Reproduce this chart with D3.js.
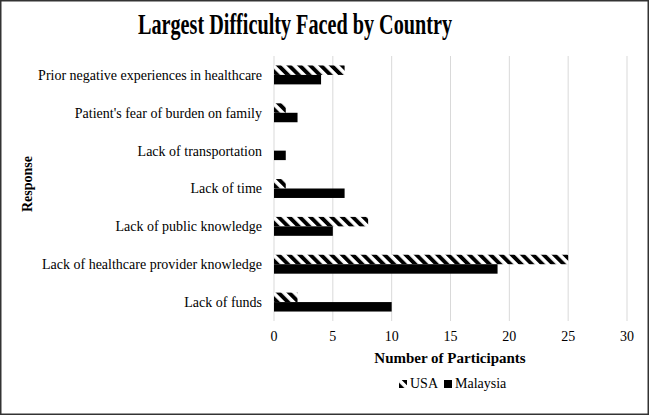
<!DOCTYPE html>
<html>
<head>
<meta charset="utf-8">
<script src="https://cdn.jsdelivr.net/npm/d3@7"></script>
<style>
  html, body { margin: 0; padding: 0; background: #fff; }
</style>
</head>
<body>
<svg id="chart" width="649" height="415" font-family="'Liberation Serif', 'Times New Roman', 'DejaVu Serif', serif"></svg>
<script>
let categories = [
	"Prior negative experiences in healthcare",
	"Patient's fear of burden on family",
	"Lack of transportation",
	"Lack of time",
	"Lack of public knowledge",
	"Lack of healthcare provider knowledge",
	"Lack of funds"
]
let usa = [6, 1, 0, 1, 8, 25, 2]
let malaysia = [4, 2, 1, 6, 5, 19, 10]
let xTicks = [0, 5, 10, 15, 20, 25, 30]
let seriesNames = ["USA", "Malaysia"]

let svg = d3.select('#chart')
let W = 649, H = 415
let plotLeft = 274, plotRight = 627, plotTop = 56, plotBottom = 321

// frame round the whole picture
svg.append('rect').attr('x', 0.75).attr('y', 0.75).attr('width', W - 1.5).attr('height', H - 1.5)
	.attr('fill', '#fff').attr('stroke', '#333').attr('stroke-width', 1.5)

let defs = svg.append('defs')
let pat = defs.append('pattern').attr('id', 'hatch')
	.attr('patternUnits', 'userSpaceOnUse').attr('width', 7.5).attr('height', 7.5)
	.attr('patternTransform', 'rotate(-45)')
pat.append('rect').attr('width', 7.5).attr('height', 7.5).attr('fill', '#fff')
pat.append('rect').attr('width', 3.9).attr('height', 7.5).attr('fill', '#000')

let x = d3.scaleLinear().domain([0, 30]).range([plotLeft, plotRight])
let y = d3.scaleBand().domain(categories).range([plotTop, plotBottom]).paddingInner(0.5).paddingOuter(0.25)
let sub = d3.scaleBand().domain(seriesNames).range([0, y.bandwidth()])

// gridlines
svg.append('g').selectAll('line').data(xTicks).join('line')
	.attr('x1', d => x(d)).attr('x2', d => x(d))
	.attr('y1', plotTop).attr('y2', plotBottom)
	.attr('stroke', '#d9d9d9').attr('stroke-width', 1)

let rows = categories.map((c, i) => ({ cat: c, USA: usa[i], Malaysia: malaysia[i] }))

let g = svg.append('g').selectAll('g').data(rows).join('g')
	.attr('transform', d => 'translate(0,' + y(d.cat) + ')')

g.selectAll('rect').data(d => seriesNames.map(s => ({ s: s, v: d[s] }))).join('rect')
	.attr('x', x(0))
	.attr('y', d => sub(d.s))
	.attr('height', sub.bandwidth())
	.attr('width', d => x(d.v) - x(0))
	.attr('fill', d => d.s == 'USA' ? 'url(#hatch)' : '#000')

// category labels
svg.append('g').selectAll('text').data(categories).join('text')
	.attr('x', plotLeft - 12)
	.attr('y', d => y(d) + y.bandwidth() / 2)
	.attr('dy', '0.35em')
	.attr('text-anchor', 'end')
	.attr('font-size', 14)
	.text(d => d)

// x tick labels
svg.append('g').selectAll('text').data(xTicks).join('text')
	.attr('x', d => x(d))
	.attr('y', 341)
	.attr('text-anchor', 'middle')
	.attr('font-size', 14)
	.text(d => d)

// title is narrow in the original, squeeze it to the same width
svg.append('text').attr('x', 295).attr('y', 34).attr('text-anchor', 'middle')
	.attr('font-size', 30).attr('font-weight', 'bold')
	.attr('textLength', 314).attr('lengthAdjust', 'spacingAndGlyphs')
	.text('Largest Difficulty Faced by Country')

svg.append('text').attr('x', 450).attr('y', 363).attr('text-anchor', 'middle')
	.attr('font-size', 15).attr('font-weight', 'bold')
	.text('Number of Participants')

svg.append('text').attr('transform', 'translate(32,184) rotate(-90)').attr('text-anchor', 'middle')
	.attr('font-size', 14).attr('font-weight', 'bold')
	.text('Response')

// legend
let lg = svg.append('g').attr('transform', 'translate(399,388)')
lg.append('rect').attr('x', 0).attr('y', -8).attr('width', 8).attr('height', 8).attr('fill', 'url(#hatch)')
lg.append('text').attr('x', 11).attr('y', 0).attr('font-size', 14).text('USA')
lg.append('rect').attr('x', 45).attr('y', -8).attr('width', 8).attr('height', 8).attr('fill', '#000')
lg.append('text').attr('x', 56).attr('y', 0).attr('font-size', 14).text('Malaysia')
</script>
</body>
</html>
